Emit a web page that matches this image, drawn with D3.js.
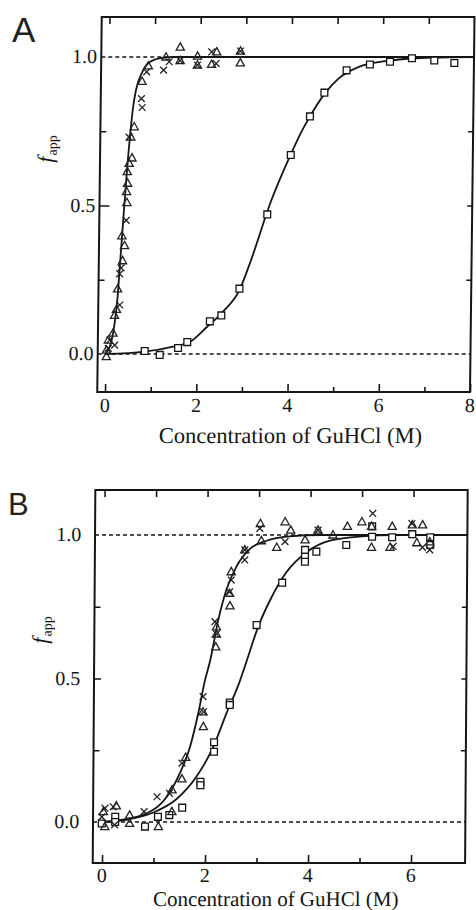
<!DOCTYPE html>
<html><head><meta charset="utf-8">
<script src="https://cdn.jsdelivr.net/npm/d3@7"></script>
<style>html,body{margin:0;padding:0;background:#fff;}svg{display:block;}</style>
</head><body>
<svg id="chart" width="476" height="910"></svg>
<script>
// ---------- Panel A data (x = GuHCl M, y = f_app) ----------
const A_xTicks = [0, 2, 4, 6, 8];
const A_xMinor = [1, 3, 5, 7];
const A_xTop = [0, 1, 2, 3, 4, 5, 6, 7];
const yTickLabels = ["0.0", "0.5", "1.0"];
const yTickValues = [0, 0.5, 1];
const yMinor = [0.25, 0.75];

const A_triangles = [[0.865,0.97],[1.25,1.0],[1.56,1.033],[1.56,0.988],[1.94,1.003],[1.94,0.973],[2.36,1.017],[2.25,0.975],[2.88,1.02],[2.88,0.98],
  [0.73,0.918],[0.57,0.765],[0.5,0.73],[0.53,0.66],[0.47,0.642],[0.43,0.614],[0.44,0.575],[0.42,0.547],[0.43,0.51],
  [0.33,0.398],[0.39,0.365],[0.35,0.314],[0.25,0.219],[0.23,0.15],[0.19,0.13],[0.16,0.07],[0.06,0.047],[0.02,0.013],[0.02,-0.009]];
const A_crosses = [[0.83,0.95],[1.2,0.956],[1.32,0.984],[1.56,0.988],[1.94,0.973],[2.25,1.017],[2.35,0.978],[2.88,1.02],
  [0.72,0.86],[0.74,0.83],[0.46,0.73],[0.42,0.45],[0.32,0.29],[0.29,0.27],[0.3,0.165],[0.09,0.047],[0.2,0.03],[0.06,0.019]];
const A_squares = [[0.86,0.01],[1.19,-0.003],[1.59,0.02],[1.79,0.04],[2.28,0.11],[2.53,0.13],[2.92,0.22],[3.51,0.47],[4.01,0.67],
  [4.42,0.8],[4.73,0.88],[5.21,0.955],[5.72,0.975],[6.16,0.984],[6.64,0.996],[7.13,0.988],[7.57,0.98]];
const A_fitFast = [[0,0.003],[0.06,0.013],[0.13,0.045],[0.19,0.1],[0.25,0.19],[0.29,0.29],[0.33,0.39],[0.37,0.49],[0.41,0.585],
  [0.45,0.675],[0.49,0.75],[0.54,0.83],[0.6,0.889],[0.72,0.945],[0.86,0.979],[1.1,0.995],[1.4,1.0],[8,1.0]];
const A_fitSlow = [[0,0.0],[0.86,0.008],[1.48,0.025],[1.85,0.041],[2.21,0.09],[2.56,0.142],[2.92,0.215],[3.13,0.3],[3.59,0.515],
  [3.83,0.608],[4.01,0.672],[4.22,0.743],[4.42,0.8],[4.73,0.875],[5.04,0.928],[5.48,0.967],[6.06,0.986],[6.64,0.995],[7.08,0.998],[8,1.0]];

// ---------- Panel B data ----------
const B_xTicks = [0, 2, 4, 6];
const B_xMinor = [1, 3, 5];
const B_xTop = [0, 1, 2, 3, 4, 5, 6];

const B_triangles = [[3.03,1.04],[3.51,1.046],[3.62,1.017],[3.35,0.957],[3.05,0.98],[2.73,0.948],[2.47,0.872],[2.44,0.797],[2.45,0.753],
  [2.19,0.68],[2.19,0.655],[2.18,0.61],[3.9,0.983],[4.15,1.017],[4.44,1.0],[4.72,1.03],[5.0,1.046],[5.19,1.03],[5.19,0.957],
  [5.59,1.03],[5.55,0.957],[5.98,1.035],[6.18,1.035],[6.07,0.973],[6.32,0.976],[1.94,0.384],[1.95,0.332],[1.61,0.225],[1.54,0.15],
  [1.35,0.112],[1.35,0.036],[1.09,-0.016],[0.53,0.024],[0.53,-0.005],[0.27,0.056],[0.05,-0.016],[0.02,0.036]];
const B_crosses = [[3.02,1.023],[3.51,0.977],[2.73,0.913],[2.73,0.948],[2.47,0.843],[2.44,0.802],[2.16,0.698],[2.19,0.655],[5.21,1.075],
  [5.61,0.96],[5.97,1.04],[6.18,0.957],[6.32,0.948],[4.15,1.017],[1.94,0.437],[1.95,0.384],[1.54,0.205],[1.3,0.1],[1.06,0.088],
  [0.81,0.036],[0.05,0.048],[0.21,0.053],[-0.01,0.018],[0.24,-0.01]];
const B_squares = [[3.46,0.834],[2.97,0.686],[3.9,0.948],[3.9,0.924],[3.9,0.907],[4.12,0.942],[4.7,0.965],[5.2,0.994],[5.2,1.03],
  [5.59,0.992],[5.98,1.003],[6.33,0.992],[6.33,0.965],[2.46,0.416],[2.46,0.408],[2.16,0.278],[2.16,0.245],[1.9,0.14],[1.9,0.128],
  [1.55,0.05],[1.3,0.024],[1.08,0.018],[0.83,-0.016],[0.25,0.018],[-0.01,-0.005],[0.25,0.0]];
const B_fit1 = [[0,0.0],[0.4,0.008],[0.86,0.03],[1.25,0.088],[1.5,0.17],[1.69,0.26],[1.85,0.38],[1.97,0.49],[2.07,0.56],[2.22,0.7],
  [2.38,0.81],[2.57,0.89],[2.82,0.95],[3.15,0.98],[3.6,0.995],[4.2,1.0],[7.05,1.0]];
const B_fit2 = [[0,0.0],[0.54,0.01],[0.99,0.033],[1.44,0.08],[1.83,0.16],[2.14,0.26],[2.4,0.38],[2.65,0.49],[2.78,0.56],[3.0,0.68],
  [3.22,0.77],[3.54,0.87],[3.93,0.94],[4.38,0.98],[5.0,0.995],[5.6,1.0],[7.05,1.0]];

const xTitle = "Concentration of GuHCl (M)";

const svg = d3.select("#chart");
const INK = "#151515";

function panel(cfg) {
  const { x, y, xFrame, yFrame, skew, label, labelPos, labelSize } = cfg;
  const yb = y(yFrame[0]);
  const g = svg.append("g")
    .attr("transform", `translate(${skew * yb},0) skewX(${-Math.atan(skew) * 180 / Math.PI})`);

  // dotted reference lines
  [0, 1].forEach(v => {
    g.append("line").attr("x1", x(xFrame[0])).attr("x2", x(xFrame[1]))
      .attr("y1", y(v)).attr("y2", y(v))
      .attr("stroke", INK).attr("stroke-width", 1.6).attr("stroke-dasharray", "4,3");
  });

  // frame
  g.append("rect").attr("x", x(xFrame[0])).attr("y", y(yFrame[1]))
    .attr("width", x(xFrame[1]) - x(xFrame[0])).attr("height", y(yFrame[0]) - y(yFrame[1]))
    .attr("fill", "none").attr("stroke", INK).attr("stroke-width", 2);

  // axes ticks (inward) using d3 axes
  const xb = d3.axisTop(x).tickValues(cfg.xTicks).tickSize(8).tickFormat("");
  g.append("g").attr("transform", `translate(0,${y(yFrame[0])})`).call(xb);
  const xbm = d3.axisTop(x).tickValues(cfg.xMinor).tickSize(5).tickFormat("");
  g.append("g").attr("transform", `translate(0,${y(yFrame[0])})`).call(xbm);
  const xt = d3.axisBottom(x).tickValues(cfg.xTop).tickSize(7).tickFormat("");
  g.append("g").attr("transform", `translate(0,${y(yFrame[1])})`).call(xt);
  const yl = d3.axisRight(y).tickValues([0.5]).tickSize(cfg.yMajorLen).tickFormat("");
  g.append("g").attr("transform", `translate(${x(xFrame[0])},0)`).call(yl);
  const ylm = d3.axisRight(y).tickValues(yMinor).tickSize(6).tickFormat("");
  g.append("g").attr("transform", `translate(${x(xFrame[0])},0)`).call(ylm);
  const yr = d3.axisLeft(y).tickValues([0.25, 0.5, 0.75]).tickSize(5).tickFormat("");
  g.append("g").attr("transform", `translate(${x(xFrame[1])},0)`).call(yr);
  g.selectAll(".domain").remove();
  g.selectAll(".tick line").attr("stroke", INK).attr("stroke-width", 1.6);

  // tick labels
  g.selectAll(".xl").data(cfg.xTicks).join("text")
    .attr("x", d => x(d)).attr("y", cfg.xLabelY)
    .attr("text-anchor", "middle").attr("font-family", "Liberation Serif, Times New Roman, serif")
    .attr("font-size", 20).attr("fill", INK).text(d => d);
  g.selectAll(".yl").data(yTickValues).join("text")
    .attr("x", cfg.yLabelX).attr("y", d => y(d) + 6.5)
    .attr("text-anchor", "end").attr("font-family", "Liberation Serif, Times New Roman, serif")
    .attr("font-size", 20).attr("fill", INK).text((d, i) => yTickLabels[i]);

  // axis titles
  g.append("text").attr("x", cfg.titleX).attr("y", cfg.titleY).attr("text-anchor", "middle")
    .attr("font-family", "Liberation Serif, Times New Roman, serif").attr("font-size", cfg.titleSize)
    .attr("fill", INK).text(xTitle);
  const yt = g.append("text").attr("transform", `translate(${cfg.yTitle[0]},${cfg.yTitle[1]}) rotate(-90)`)
    .attr("text-anchor", "middle").attr("font-family", "Liberation Serif, Times New Roman, serif").attr("fill", INK);
  yt.append("tspan").attr("font-style", "italic").attr("font-size", 22).text("f");
  yt.append("tspan").attr("font-size", 14).attr("dy", 4).attr("dx", 1).text("app");

  // fit curves
  const line = d3.line().x(d => x(d[0])).y(d => y(d[1])).curve(d3.curveMonotoneX);
  cfg.fits.forEach(f => {
    g.append("path").attr("d", line(f)).attr("fill", "none").attr("stroke", INK).attr("stroke-width", 1.8);
  });

  // markers
  g.selectAll(".sq").data(cfg.squares).join("rect")
    .attr("x", d => x(d[0]) - 3.4).attr("y", d => y(d[1]) - 3.4).attr("width", 6.8).attr("height", 6.8)
    .attr("fill", "#fff").attr("stroke", INK).attr("stroke-width", 1.3);
  g.selectAll(".tri").data(cfg.triangles).join("path")
    .attr("transform", d => `translate(${x(d[0])},${y(d[1])})`)
    .attr("d", "M0,-4.3L4.1,3L-4.1,3Z")
    .attr("fill", "none").attr("stroke", "#222").attr("stroke-width", 1.3);
  g.selectAll(".cr").data(cfg.crosses).join("path")
    .attr("transform", d => `translate(${x(d[0])},${y(d[1])})`)
    .attr("d", "M-3.4,-3.4L3.4,3.4M-3.4,3.4L3.4,-3.4")
    .attr("fill", "none").attr("stroke", "#222").attr("stroke-width", 1.3);

  // panel letter
  svg.append("text").attr("x", labelPos[0]).attr("y", labelPos[1])
    .attr("font-family", "Liberation Sans, Arial, sans-serif").attr("font-size", labelSize)
    .attr("fill", "#222").text(label);
}

const xA = d3.scaleLinear().domain([0, 8]).range([105, 470]);
const yA = d3.scaleLinear().domain([0, 1]).range([354, 57]);
panel({
  x: xA, y: yA, xFrame: [-0.17, 8], yFrame: [-0.128, 1.135], skew: 0.012,
  xTicks: A_xTicks, xMinor: A_xMinor, xTop: A_xTop, yMajorLen: 10,
  xLabelY: 412, yLabelX: 93, titleX: 291, titleY: 443, titleSize: 22.5, yTitle: [50, 149],
  fits: [A_fitFast, A_fitSlow], squares: A_squares, triangles: A_triangles, crosses: A_crosses,
  label: "A", labelPos: [12, 42], labelSize: 35
});

const xB = d3.scaleLinear().domain([0, 6]).range([102, 411]);
const yB = d3.scaleLinear().domain([0, 1]).range([822, 535]);
panel({
  x: xB, y: yB, xFrame: [-0.18, 7.05], yFrame: [-0.143, 1.157], skew: 0.007,
  xTicks: B_xTicks, xMinor: B_xMinor, xTop: B_xTop, yMajorLen: 7,
  xLabelY: 882, yLabelX: 79, titleX: 276, titleY: 906, titleSize: 21, yTitle: [46, 630],
  fits: [B_fit1, B_fit2], squares: B_squares, triangles: B_triangles, crosses: B_crosses,
  label: "B", labelPos: [8, 515], labelSize: 31
});
</script>
</body></html>
